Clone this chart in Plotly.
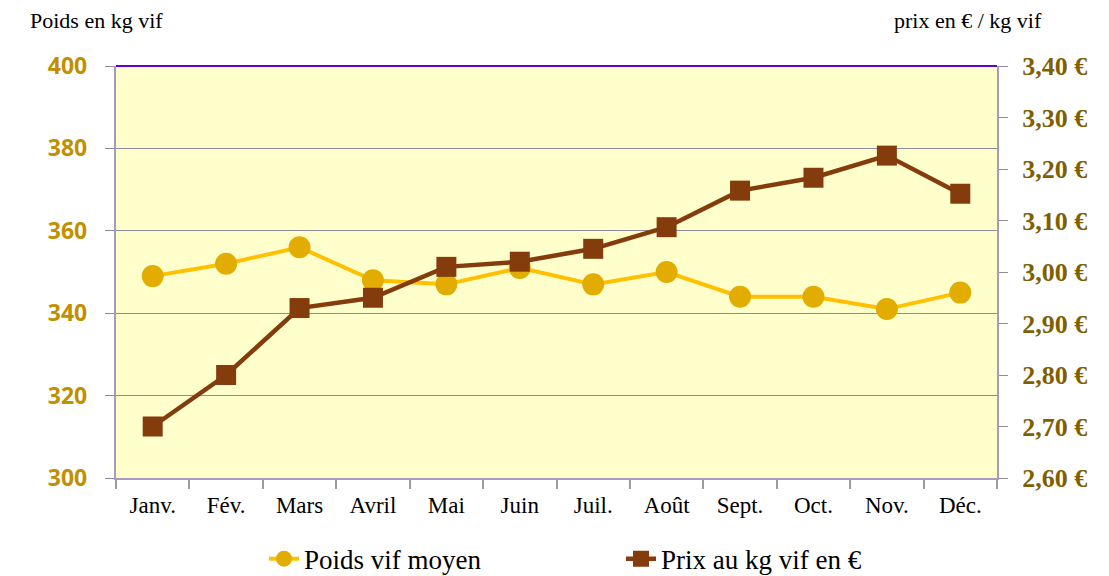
import plotly.graph_objects as go

months = ["Janv.", "Fév.", "Mars", "Avril", "Mai", "Juin", "Juil.", "Août", "Sept.", "Oct.", "Nov.", "Déc."]
poids = [349, 352, 356, 348, 347, 351, 347, 350, 344, 344, 341, 345]
prix = [2.70, 2.80, 2.93, 2.95, 3.01, 3.02, 3.045, 3.087, 3.158, 3.183, 3.226, 3.152]
left_ticks = [300, 320, 340, 360, 380, 400]
left_labels = [f"{v}\u2007" for v in left_ticks]
right_ticks = [2.6, 2.7, 2.8, 2.9, 3.0, 3.1, 3.2, 3.3, 3.4]
right_labels = [f"{v:.2f} €".replace(".", ",") for v in right_ticks]

# page body has ~8px margin: compensate so the plot area sits at x 116..997, y 66..478
OFF = 8
L, T = 116 - OFF, 66 - OFF
PW, PH = 881, 412
W, H = 1109, 576

fig = go.Figure()
fig.add_trace(go.Scatter(
    x=months, y=poids, name="Poids vif moyen", mode="lines+markers",
    line=dict(color="#FFC000", width=4),
    marker=dict(symbol="circle", size=22, color="#E2AC00"),
))
fig.add_trace(go.Scatter(
    x=months, y=prix, name="Prix au kg vif en €", mode="lines+markers", yaxis="y2",
    line=dict(color="#843C0C", width=4.5),
    marker=dict(symbol="square", size=20, color="#843C0C"),
))

fig.update_layout(
    width=W, height=H,
    margin=dict(l=L, r=W - L - PW, t=T, b=H - T - PH, autoexpand=False),
    paper_bgcolor="white", plot_bgcolor="#FFFFCC",
    showlegend=True,
    legend=dict(orientation="h", x=0.168, xanchor="left", y=-0.197, yanchor="middle",
                font=dict(family="Liberation Serif", size=27, color="#000000"),
                entrywidth=312, entrywidthmode="pixels", tracegroupgap=0),
    xaxis=dict(
        type="category", showgrid=False, showline=True, linecolor="#A899C0", linewidth=2,
        ticks="outside", ticklen=9, tickcolor="#9C9C9C", tickwidth=2, tickson="boundaries",
        tickfont=dict(family="Liberation Serif", size=23, color="#000000"),
        ticklabelstandoff=5, automargin=False,
        range=[-0.5, 11.5],
    ),
    yaxis=dict(
        range=[300, 400], tickvals=left_ticks, ticktext=left_labels, showgrid=True,
        gridcolor="#8C8C9C", gridwidth=1,
        showline=True, linecolor="#A899C0", linewidth=2, ticks="outside", ticklen=9,
        tickcolor="#8C8C9C", zeroline=False, automargin=False,
        tickfont=dict(family="Open Sans", size=23, color="#C09000", weight="bold"),
    ),
    yaxis2=dict(
        range=[2.6, 3.4], tickvals=right_ticks, ticktext=right_labels, overlaying="y", side="right",
        showgrid=False, showline=True, linecolor="#A899C0", linewidth=2, ticks="outside",
        ticklen=9, tickcolor="#8C8C9C", zeroline=False, ticklabelstandoff=9, automargin=False,
        tickfont=dict(family="Liberation Serif", size=26, color="#7F6000", weight="bold"),
    ),
    shapes=[dict(type="line", xref="paper", yref="paper", x0=0, x1=1, y0=1, y1=1,
                 line=dict(color="#6600CC", width=2))],
    annotations=[
        dict(text="Poids en kg vif", xref="paper", yref="paper", x=(28 - 116) / PW, y=(478 - 21) / PH,
             xanchor="left", yanchor="middle", showarrow=False,
             font=dict(family="Liberation Serif", size=22, color="#000000")),
        dict(text="prix en € / kg vif", xref="paper", yref="paper", x=(892 - 116) / PW, y=(478 - 21) / PH,
             xanchor="left", yanchor="middle", showarrow=False,
             font=dict(family="Liberation Serif", size=22, color="#000000")),
    ],
)

fig.write_html("out.html")
